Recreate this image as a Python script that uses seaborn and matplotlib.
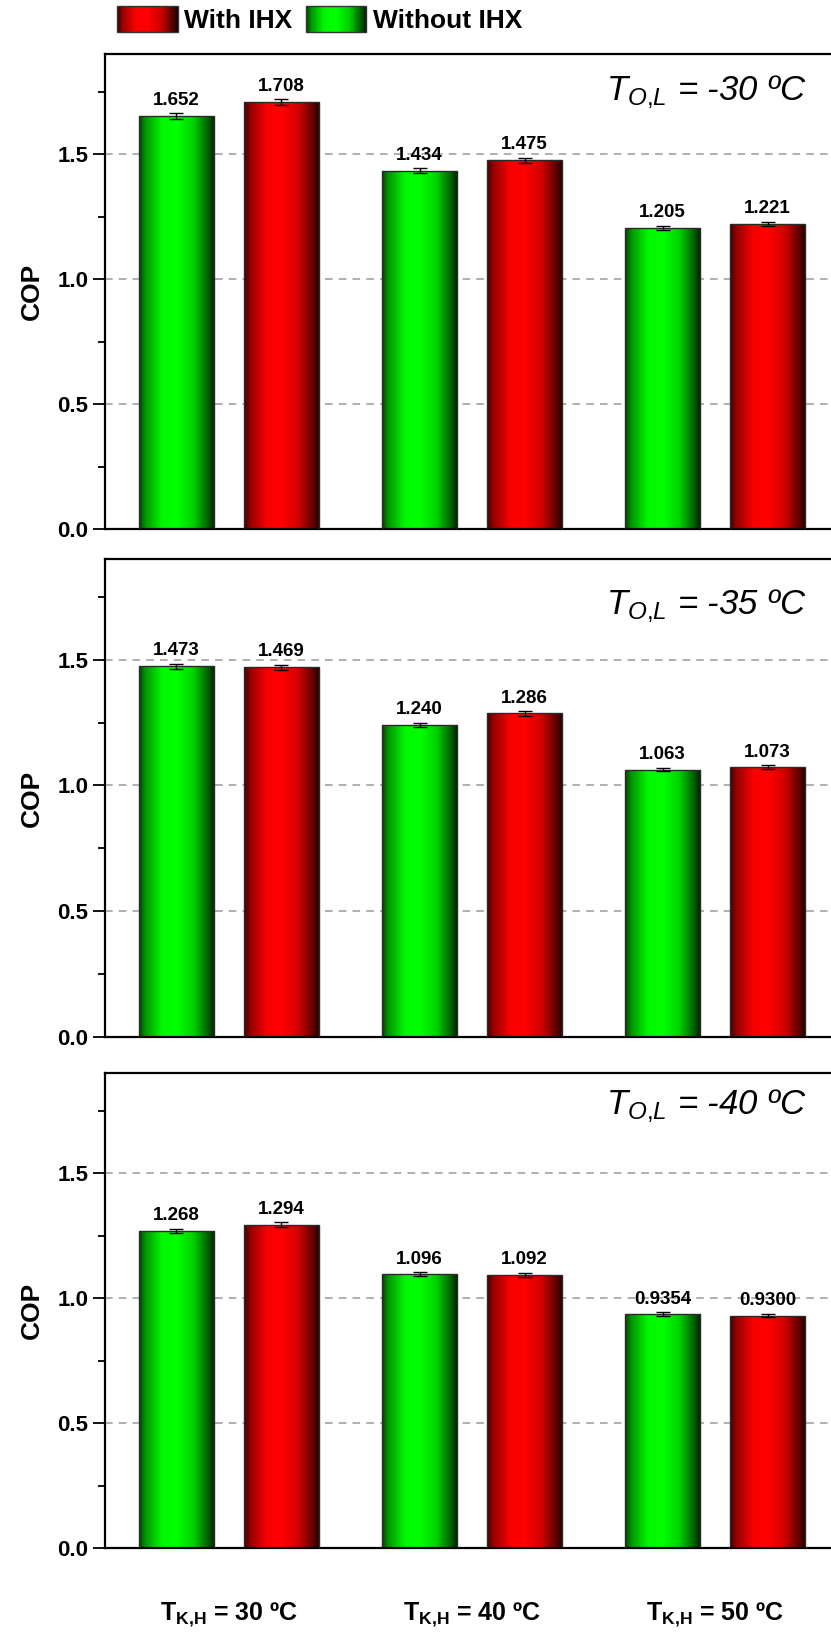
import numpy as np
import pandas as pd
import seaborn as sns
import matplotlib
matplotlib.use("Agg")
import matplotlib.pyplot as plt
from matplotlib.patches import Rectangle
from matplotlib.legend_handler import HandlerBase
from matplotlib.ticker import MultipleLocator

# ---- data -------------------------------------------------------------
evap_temps = ["-30", "-35", "-40"]          # T_O,L per panel
cond_temps = ["30", "40", "50"]            # T_K,H categories
series = ["Without IHX", "With IHX"]

cop_without = [[1.652, 1.434, 1.205],
               [1.473, 1.240, 1.063],
               [1.268, 1.096, 0.9354]]
cop_with = [[1.708, 1.475, 1.221],
            [1.469, 1.286, 1.073],
            [1.294, 1.092, 0.9300]]
err_without = [[0.011, 0.010, 0.008],
               [0.010, 0.009, 0.007],
               [0.009, 0.008, 0.007]]
err_with = [[0.011, 0.010, 0.008],
            [0.011, 0.009, 0.007],
            [0.009, 0.008, 0.007]]

rows = []
for p, et in enumerate(evap_temps):
    for c, ct in enumerate(cond_temps):
        rows.append((et, ct, series[0], cop_without[p][c], err_without[p][c]))
        rows.append((et, ct, series[1], cop_with[p][c], err_with[p][c]))
df = pd.DataFrame(rows, columns=["evap", "cond", "series", "cop", "err"])

# ---- style ------------------------------------------------------------
sns.set_theme(style="white")
plt.rcParams["font.family"] = ["Liberation Sans Narrow", "Liberation Sans", "DejaVu Sans"]
plt.rcParams["mathtext.fontset"] = "custom"
plt.rcParams["mathtext.rm"] = "Liberation Sans"
plt.rcParams["mathtext.it"] = "Liberation Sans:italic"
plt.rcParams["mathtext.bf"] = "Liberation Sans:bold"
for key in ["text.color", "axes.labelcolor", "xtick.color", "ytick.color",
            "xtick.labelcolor", "ytick.labelcolor"]:
    plt.rcParams[key] = "black"

base_rgb = {"Without IHX": np.array([0.0, 1.0, 0.0]),
            "With IHX": np.array([1.0, 0.0, 0.0])}
prof_t = [0.0, 0.08, 0.30, 0.50, 0.72, 0.90, 1.0]
prof_v = [0.25, 0.58, 0.97, 1.0, 0.82, 0.40, 0.12]


def shade(rgb, n=256):
    t = np.linspace(0, 1, n)
    v = np.interp(t, prof_t, prof_v)
    return (v[:, None] * rgb[None, :])[None, :, :]


class GradientHandler(HandlerBase):
    def __init__(self, rgb):
        super().__init__()
        self.rgb = rgb

    def create_artists(self, legend, orig_handle, xdescent, ydescent,
                       width, height, fontsize, trans):
        n = 48
        cols = shade(self.rgb, n)[0]
        arts = []
        for k in range(n):
            arts.append(Rectangle((-xdescent + width * k / n, -ydescent),
                                  width / n * 1.05, height, facecolor=cols[k],
                                  edgecolor="none", transform=trans))
        arts.append(Rectangle((-xdescent, -ydescent), width, height,
                              facecolor="none", edgecolor="#333333",
                              linewidth=1.0, transform=trans))
        return arts


W, H = 831, 1639
fig = plt.figure(figsize=(W / 100, H / 100), dpi=100)
left_px, right_px = 105, 831
panels_px = [(54, 529), (559, 1037), (1073, 1548)]

for p, et in enumerate(evap_temps):
    top, bot = panels_px[p]
    ax = fig.add_axes([left_px / W, 1 - bot / H, (right_px - left_px) / W, (bot - top) / H])
    sub = df[df["evap"] == et]
    sns.barplot(data=sub, x="cond", y="cop", hue="series", order=cond_temps,
                hue_order=series, palette={s: tuple(base_rgb[s]) for s in series},
                width=0.864, gap=0.285, errorbar=None, legend=False,
                edgecolor="#2a2a2a", linewidth=1.0, ax=ax)

    for s_idx, s in enumerate(series):
        cont = ax.containers[s_idx]
        vals = sub[sub["series"] == s].set_index("cond").loc[cond_temps]
        for patch, (_, r) in zip(cont.patches, vals.iterrows()):
            x0 = patch.get_x()
            w = patch.get_width()
            h = patch.get_height()
            im = ax.imshow(shade(base_rgb[s]), extent=[x0, x0 + w, 0, h],
                           aspect="auto", interpolation="bicubic", zorder=2)
            im.set_clip_path(patch)
            patch.set_facecolor("none")
            patch.set_zorder(3)
            xc = x0 + w / 2
            ax.errorbar(xc, h, yerr=r["err"], fmt="none", ecolor="black",
                        elinewidth=1.0, capsize=5, capthick=1.0, zorder=4)
            lbl = f"{r['cop']:.3f}" if r["cop"] >= 1 else f"{r['cop']:.4f}"
            ax.text(xc, h + r["err"] + 0.018, lbl, ha="center", va="bottom",
                    fontsize=13.5, fontweight="bold", color="black")

    ax.set_xlim(-0.51, 2.477)
    ax.set_ylim(0, 1.9)
    ax.yaxis.set_major_locator(MultipleLocator(0.5))
    ax.yaxis.set_minor_locator(MultipleLocator(0.25))
    ax.set_yticks([0, 0.5, 1.0, 1.5])
    ax.set_yticklabels(["0.0", "0.5", "1.0", "1.5"], fontsize=16, fontweight="bold")
    ax.tick_params(axis="y", which="major", direction="out", length=9, width=1.3,
                   left=True, pad=3, colors="black")
    ax.tick_params(axis="y", which="minor", direction="out", length=5, width=1.3,
                   left=True, colors="black")
    ax.grid(axis="y", which="major", color="#9a9a9a", linestyle=(0, (5, 4)), linewidth=1.1)
    ax.grid(axis="x", visible=False)
    ax.set_axisbelow(True)
    for side in ["left", "top", "bottom"]:
        ax.spines[side].set_visible(True)
        ax.spines[side].set_color("black")
        ax.spines[side].set_linewidth(1.6)
    ax.spines["right"].set_visible(False)
    ax.set_ylabel("COP", fontsize=19, fontweight="bold", labelpad=10, color="black")
    ax.set_xlabel("")

    if p == 2:
        ax.set_xticks(range(len(cond_temps)))
        ax.set_xticklabels([rf"$\mathbf{{T_{{K{{,}}H}}}}$ = {c} ºC" for c in cond_temps],
                           fontsize=18, fontweight="bold")
        ax.tick_params(axis="x", length=0, pad=38, colors="black")
    else:
        ax.set_xticks([])

    title_y = [0.92, 0.90, 0.93][p]
    ax.text(0.967, title_y, rf"$\mathit{{T_{{O{{,}}L}}}}$ = {et} ºC",
            transform=ax.transAxes, ha="right", va="center", fontsize=25,
            style="italic", family="Liberation Sans", color="black")

h_with = Rectangle((0, 0), 1, 1)
h_without = Rectangle((0, 0), 1, 1)
fig.legend([h_with, h_without], ["With IHX", "Without IHX"],
           handler_map={h_with: GradientHandler(base_rgb["With IHX"]),
                        h_without: GradientHandler(base_rgb["Without IHX"])},
           loc="upper left", bbox_to_anchor=(117 / W, 1 - 6 / H), ncol=2,
           frameon=False, borderpad=0, borderaxespad=0,
           prop={"size": 19, "weight": "bold"},
           handlelength=2.3, handleheight=1.15, handletextpad=0.25,
           columnspacing=0.5)

fig.savefig("out.png", dpi=100, facecolor="white")
